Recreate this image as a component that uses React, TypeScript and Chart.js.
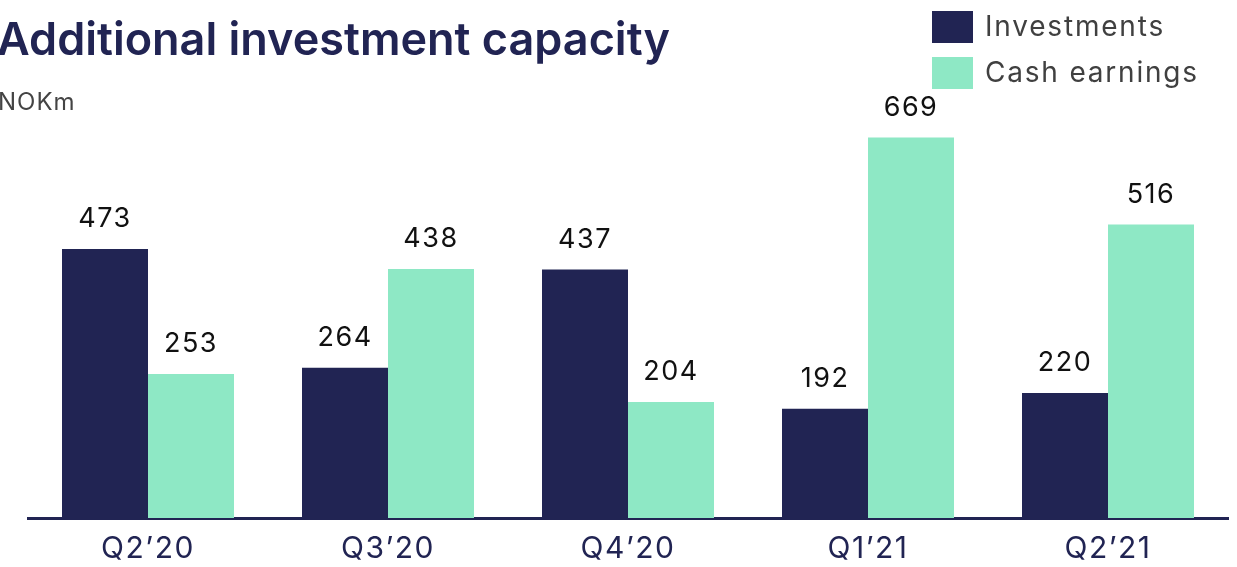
import React, { useEffect, useRef } from "react";
import { Chart, registerables } from "chart.js";

Chart.register(...registerables);

const categories = ["Q2\u201920", "Q3\u201920", "Q4\u201920", "Q1\u201921", "Q2\u201921"];
const investments = [473, 264, 437, 192, 220];
const cashEarnings = [253, 438, 204, 669, 516];
const seriesNames = ["Investments", "Cash earnings"];
const titleText = "Additional investment capacity";
const unitText = "NOKm";

const NAVY = "#212453";
const MINT = "#8ee8c5";
const FONT = "Inter, 'Open Sans', sans-serif";

const spacingPlugin = {
  id: "spacing",
  beforeDraw(chart: any) {
    (chart.ctx as any).letterSpacing = "1.5px";
  },
  afterDraw(chart: any) {
    (chart.ctx as any).letterSpacing = "0px";
  },
};

const overlayPlugin = {
  id: "overlay",
  afterDatasetsDraw(chart: any) {
    const ctx = chart.ctx as any;
    ctx.save();
    // data labels
    ctx.letterSpacing = "1.5px";
    ctx.fillStyle = "#111111";
    ctx.font = `400 27px ${FONT}`;
    ctx.textAlign = "center";
    ctx.textBaseline = "middle";
    chart.data.datasets.forEach((ds: any, i: number) => {
      const meta = chart.getDatasetMeta(i);
      meta.data.forEach((bar: any, j: number) => {
        ctx.fillText(String(ds.data[j]), bar.x, bar.y - 30);
      });
    });
    // title
    ctx.textAlign = "left";
    ctx.textBaseline = "alphabetic";
    ctx.fillStyle = NAVY;
    ctx.letterSpacing = "0px";
    ctx.font = `600 45px ${FONT}`;
    ctx.fillText(titleText, -3, 55);
    ctx.fillStyle = "#444444";
    ctx.letterSpacing = "1px";
    ctx.font = `400 24px ${FONT}`;
    ctx.fillText(unitText, -2, 110);
    // legend
    const colors = [NAVY, MINT];
    const ys = [11, 57];
    ctx.font = `400 28px ${FONT}`;
    ctx.letterSpacing = "1.8px";
    ctx.textBaseline = "middle";
    seriesNames.forEach((n, i) => {
      ctx.fillStyle = colors[i];
      ctx.fillRect(932, ys[i], 41, 32);
      ctx.fillStyle = "#404040";
      ctx.fillText(n, 985, ys[i] + 17);
    });
    ctx.restore();
  },
};

export default function App() {
  const ref = useRef<HTMLCanvasElement>(null);
  useEffect(() => {
    const chart = new Chart(ref.current!, {
      type: "bar",
      data: {
        labels: categories,
        datasets: [
          { label: seriesNames[0], data: investments, backgroundColor: NAVY },
          { label: seriesNames[1], data: cashEarnings, backgroundColor: MINT },
        ],
      },
      options: {
        animation: false,
        responsive: false,
        layout: { padding: { left: 28, right: 9, top: 63, bottom: 0 } },
        datasets: { bar: { categoryPercentage: 172 / 240, barPercentage: 1 } },
        plugins: { legend: { display: false }, tooltip: { enabled: false }, title: { display: false } },
        scales: {
          x: {
            grid: { display: false, drawTicks: false },
            border: { display: true, color: NAVY, width: 3 },
            ticks: { color: NAVY, font: { family: FONT, size: 30 }, padding: 13 },
            afterFit: (s: any) => { s.height = 49; },
          },
          y: { display: false, min: 0, max: 800 },
        },
      },
      plugins: [spacingPlugin, overlayPlugin],
    });
    return () => chart.destroy();
  }, []);
  return (
    <div style={{ position: "fixed", left: 0, top: 0, width: 1237, height: 567, background: "#fff" }}>
      <canvas ref={ref} width={1237} height={567} style={{ width: 1237, height: 567 }} />
    </div>
  );
}
